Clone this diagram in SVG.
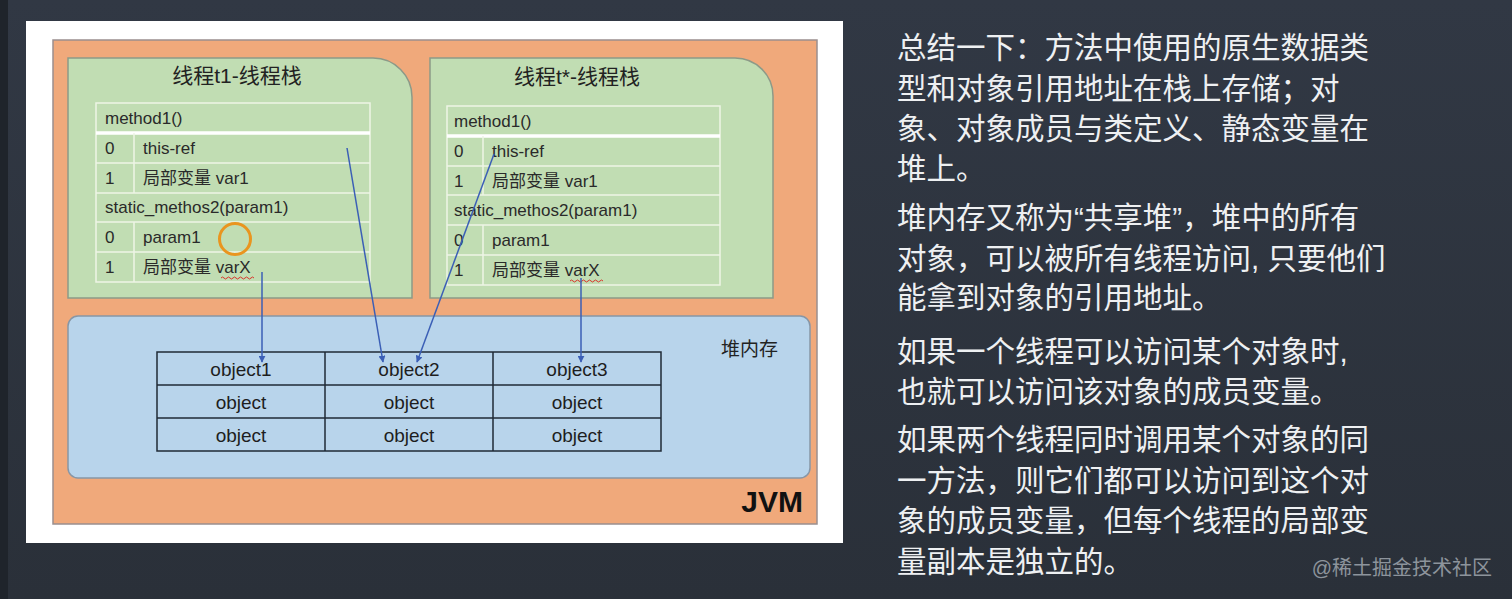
<svg xmlns="http://www.w3.org/2000/svg" width="1512" height="599" viewBox="0 0 1512 599">
<defs>
<linearGradient id="bg" x1="0" y1="0" x2="0" y2="1">
<stop offset="0" stop-color="#313844"/>
<stop offset="1" stop-color="#2a3039"/>
</linearGradient>
<marker id="ah" viewBox="0 0 10 10" refX="9" refY="5" markerWidth="7" markerHeight="7" orient="auto" markerUnits="userSpaceOnUse">
<path d="M0,0 L10,5 L0,10 z" fill="#3b5fb6"/>
</marker>
<style>
.tb{font-family:"Liberation Sans","Noto Sans CJK SC",sans-serif;font-size:17px;fill:#2a2a2a}
.ttl{font-family:"Liberation Sans","Noto Sans CJK SC",sans-serif;font-size:21px;fill:#222;text-anchor:middle}
.ob{font-family:"Liberation Sans","Noto Sans CJK SC",sans-serif;font-size:19px;fill:#1e1e1e;text-anchor:middle}
.grid{stroke:#eef5e6;stroke-width:1.5;fill:none}
.thick{stroke:#ffffff;stroke-width:3.5}
.green{fill:#c1ddb3;stroke:#8c9a88;stroke-width:1.5}
.otab{stroke:#1f2a36;stroke-width:1.5;fill:none}
.conn{stroke:#3b5fb6;stroke-width:1.5;fill:none;marker-end:url(#ah)}
.rt{font-family:"Liberation Sans","Noto Sans CJK SC",sans-serif;font-size:29.5px;fill:#eef0f2}
.sq{stroke:#d9342b;stroke-width:1;fill:none}
</style>
</defs>
<rect width="1512" height="599" fill="url(#bg)"/>
<rect x="0" y="0" width="8" height="599" fill="#1f242b"/>

<g id="panel">
<rect x="26" y="21" width="817" height="522" fill="#ffffff"/>
</g>

<g id="jvm">
<rect x="53" y="40" width="764" height="484" fill="#f0a97b" stroke="#9a8f8f" stroke-width="1.5"/>
<text x="803" y="512" font-family="Liberation Sans, sans-serif" font-size="30" font-weight="bold" fill="#111" text-anchor="end">JVM</text>
</g>

<g id="thread-t1">
<path class="green" d="M68,58 H373 A39,39 0 0 1 412,97 V298 H68 Z"/>
<text class="ttl" x="237" y="83">线程t1-线程栈</text>
<rect class="grid" x="96" y="103" width="274" height="179"/>
<line class="thick" x1="96" y1="133" x2="370" y2="133"/>
<line class="grid" x1="96" y1="163" x2="370" y2="163"/>
<line class="grid" x1="96" y1="193" x2="370" y2="193"/>
<line class="grid" x1="96" y1="222" x2="370" y2="222"/>
<line class="grid" x1="96" y1="252" x2="370" y2="252"/>
<line class="grid" x1="134" y1="133" x2="134" y2="193"/>
<line class="grid" x1="134" y1="222" x2="134" y2="282"/>
<text class="tb" x="105" y="124">method1()</text>
<text class="tb" x="105" y="154">0</text><text class="tb" x="143" y="154">this-ref</text>
<text class="tb" x="105" y="184">1</text><text class="tb" x="143" y="184">局部变量 var1</text>
<text class="tb" x="105" y="213">static_methos2(param1)</text>
<text class="tb" x="105" y="243">0</text><text class="tb" x="143" y="243">param1</text>
<text class="tb" x="105" y="273">1</text><text class="tb" x="143" y="273">局部变量 varX</text>
<path class="sq" d="M221,278 q1.5,-2 3,0 t3,0 t3,0 t3,0 t3,0 t3,0 t3,0 t3,0 t3,0 t3,0 t3,0"/>
<circle cx="235" cy="239" r="15.5" fill="none" stroke="#e9951f" stroke-width="3"/>
</g>

<g id="thread-tx">
<path class="green" d="M430,58 H735 A38,38 0 0 1 773,96 V298 H430 Z"/>
<text class="ttl" x="577" y="84">线程t*-线程栈</text>
<rect class="grid" x="447" y="106" width="273" height="179"/>
<line class="thick" x1="447" y1="136" x2="720" y2="136"/>
<line class="grid" x1="447" y1="166" x2="720" y2="166"/>
<line class="grid" x1="447" y1="195" x2="720" y2="195"/>
<line class="grid" x1="447" y1="225" x2="720" y2="225"/>
<line class="grid" x1="447" y1="255" x2="720" y2="255"/>
<line class="grid" x1="483" y1="136" x2="483" y2="195"/>
<line class="grid" x1="483" y1="225" x2="483" y2="285"/>
<text class="tb" x="454" y="127">method1()</text>
<text class="tb" x="454" y="157">0</text><text class="tb" x="492" y="157">this-ref</text>
<text class="tb" x="454" y="187">1</text><text class="tb" x="492" y="187">局部变量 var1</text>
<text class="tb" x="454" y="216">static_methos2(param1)</text>
<text class="tb" x="454" y="246">0</text><text class="tb" x="492" y="246">param1</text>
<text class="tb" x="454" y="276">1</text><text class="tb" x="492" y="276">局部变量 varX</text>
<path class="sq" d="M570,281 q1.5,-2 3,0 t3,0 t3,0 t3,0 t3,0 t3,0 t3,0 t3,0 t3,0 t3,0 t3,0"/>
</g>

<g id="heap">
<rect x="68" y="316" width="742" height="162" rx="10" fill="#b8d4eb" stroke="#8796a6" stroke-width="1.5"/>
<text x="721" y="356" font-family="Liberation Sans, Noto Sans CJK SC, sans-serif" font-size="19" fill="#222">堆内存</text>
</g>

<g id="objects">
<rect class="otab" x="157" y="352" width="504" height="99"/>
<line class="otab" x1="157" y1="385" x2="661" y2="385"/>
<line class="otab" x1="157" y1="418" x2="661" y2="418"/>
<line class="otab" x1="325" y1="352" x2="325" y2="451"/>
<line class="otab" x1="493" y1="352" x2="493" y2="451"/>
<text class="ob" x="241" y="376">object1</text>
<text class="ob" x="409" y="376">object2</text>
<text class="ob" x="577" y="376">object3</text>
<text class="ob" x="241" y="409">object</text>
<text class="ob" x="409" y="409">object</text>
<text class="ob" x="577" y="409">object</text>
<text class="ob" x="241" y="442">object</text>
<text class="ob" x="409" y="442">object</text>
<text class="ob" x="577" y="442">object</text>
</g>

<g id="connectors">
<line class="conn" x1="262" y1="272" x2="262" y2="362"/>
<line class="conn" x1="347" y1="148" x2="383" y2="362"/>
<line class="conn" x1="494" y1="154" x2="417" y2="362"/>
<line class="conn" x1="581" y1="278" x2="581" y2="362"/>
</g>

<g id="notes">
<text class="rt" x="897" y="58">总结一下：方法中使用的原生数据类</text>
<text class="rt" x="897" y="99">型和对象引用地址在栈上存储；对</text>
<text class="rt" x="897" y="139">象、对象成员与类定义、静态变量在</text>
<text class="rt" x="897" y="179">堆上。</text>
<text class="rt" x="897" y="228">堆内存又称为“共享堆”，堆中的所有</text>
<text class="rt" x="897" y="269">对象，可以被所有线程访问, 只要他们</text>
<text class="rt" x="897" y="308">能拿到对象的引用地址。</text>
<text class="rt" x="897" y="362">如果一个线程可以访问某个对象时,</text>
<text class="rt" x="897" y="402">也就可以访问该对象的成员变量。</text>
<text class="rt" x="897" y="450">如果两个线程同时调用某个对象的同</text>
<text class="rt" x="897" y="491">一方法，则它们都可以访问到这个对</text>
<text class="rt" x="897" y="531">象的成员变量，但每个线程的局部变</text>
<text class="rt" x="897" y="572">量副本是独立的。</text>
<text x="1492" y="575" font-family="Liberation Sans, Noto Sans CJK SC, sans-serif" font-size="20" fill="#8d949c" text-anchor="end">@稀土掘金技术社区</text>
</g>
</svg>
